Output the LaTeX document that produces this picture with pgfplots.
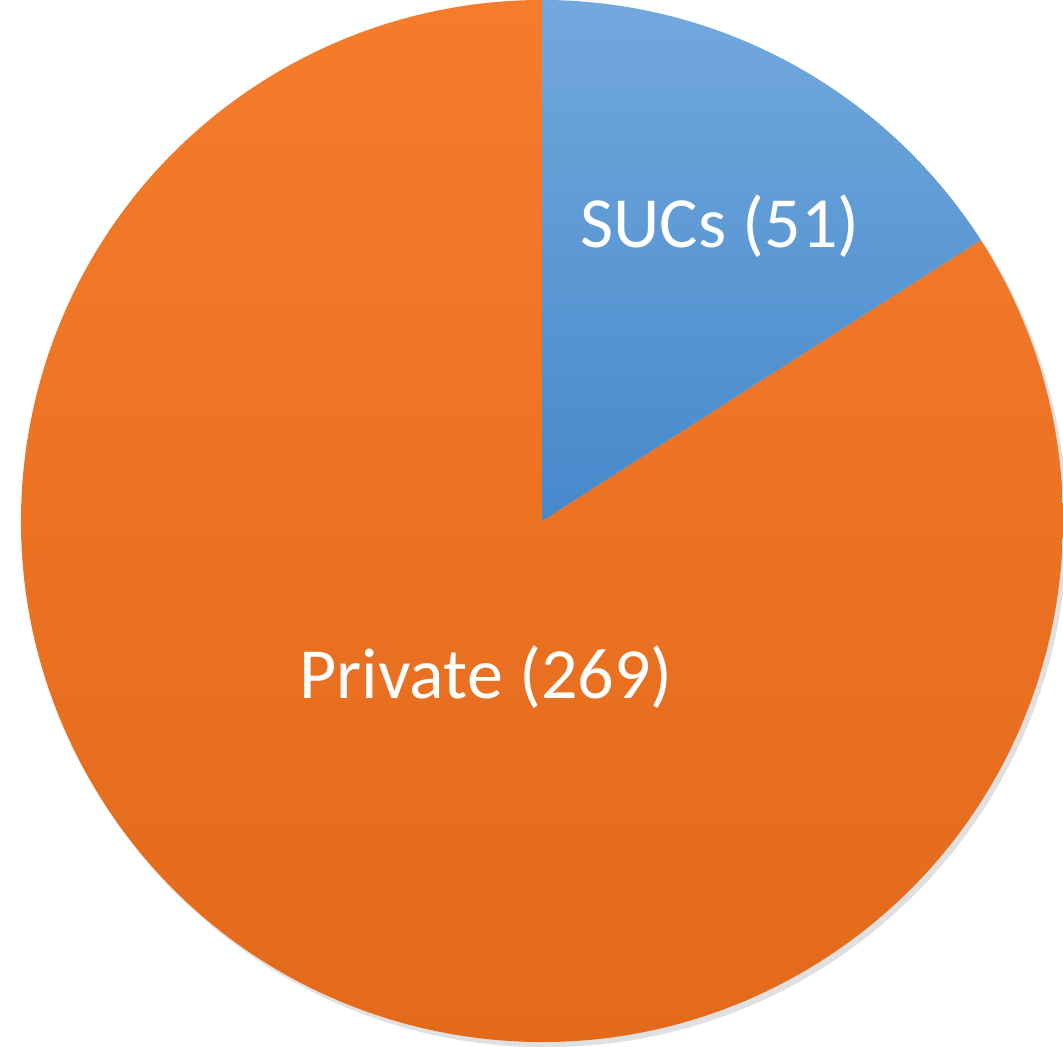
\documentclass[border=0pt]{standalone}
\usepackage{pgfplots}
\pgfplotsset{compat=1.18}
\usepackage{fontspec}
\setmainfont{Carlito}

\definecolor{bluetop}{HTML}{72A8DD}
\definecolor{bluemid}{HTML}{5A99D6}
\definecolor{bluebot}{HTML}{4689CB}
\definecolor{orgtop}{HTML}{F47C2B}
\definecolor{orgmid}{HTML}{E66C1B}
\definecolor{orgbot}{HTML}{E2681A}

% slice values
\def\valSUC{51}
\def\valPriv{269}

\begin{document}
\begin{tikzpicture}
\pgfmathsetmacro{\total}{\valSUC+\valPriv}
\pgfmathsetmacro{\aSplit}{90-360*(\valSUC/\total)}
\pgfmathsetmacro{\aEnd}{\aSplit-360*(\valPriv/\total)}
\begin{axis}[
    scale only axis,
    width=10.63cm, height=10.54cm,
    xmin=-1.0403, xmax=1.0,
    ymin=-1.0086, ymax=1.0144,
    hide axis,
]
% soft shadow
\fill[black!22] (axis cs:0.004,-0.006) circle[radius=5.21cm];
\fill[black!12] (axis cs:0.008,-0.010) circle[radius=5.21cm];
% private slice
\shade[top color=orgtop, middle color=orgmid, bottom color=orgbot]
  (axis cs:0,0) -- (axis cs:{cos(\aSplit)},{sin(\aSplit)})
  arc[start angle=\aSplit, end angle=\aEnd, radius=5.21cm] -- cycle;
% SUCs slice
\shade[top color=bluetop, middle color=bluemid, bottom color=bluebot]
  (axis cs:0,0) -- (axis cs:0,1)
  arc[start angle=90, end angle=\aSplit, radius=5.21cm] -- cycle;
\node[anchor=base, text=white, font=\fontsize{20.5}{24}\selectfont]
  at (axis cs:0.3417,0.525) {SUCs (51)};
\node[anchor=base, text=white, font=\fontsize{20.5}{24}\selectfont]
  at (axis cs:-0.1075,-0.3407) {Private (269)};
\end{axis}
\end{tikzpicture}
\end{document}
